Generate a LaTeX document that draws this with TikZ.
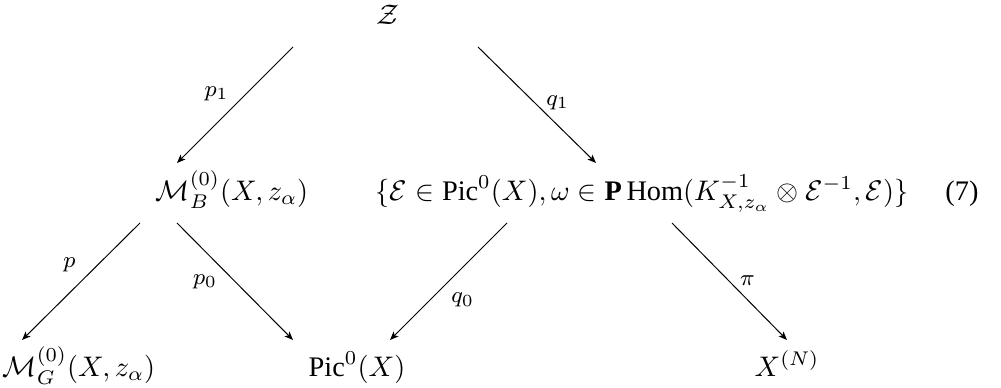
\documentclass[tikz,border=0pt]{standalone}
\usepackage{amsmath,amssymb}
\usepackage{fontspec}
\setmainfont{Liberation Serif}
\usepackage{tikz}
\usetikzlibrary{arrows.meta}

\begin{document}
\begin{tikzpicture}[
    x=0.353pt, y=-0.353pt,
    every node/.style={inner sep=0pt},
    objnode/.style={anchor=base},
    lbl/.style={font=\footnotesize, inner sep=0pt, anchor=center},
    arr/.style={-{Stealth[length=3pt, width=2.4pt, inset=0.7pt]}, line width=0.35pt}
]
\useasboundingbox (0,0) rectangle (1001,388);

% objects of the diagram
\node[objnode] (Z) at (388,25) {$\mathcal{Z}$};
\node[objnode] (MB) at (232,200) {$\mathcal{M}_B^{(0)}(X, z_\alpha)$};
\node[objnode] (setE) at (642,200) {$\{\mathcal{E} \in \mathrm{Pic}^0(X), \omega \in \mathbf{P}\,\mathrm{Hom}(K_{X,z_\alpha}^{-1} \otimes \mathcal{E}^{-1}, \mathcal{E})\}$};
\node[objnode] (eqno) at (962,200) {(7)};
\node[objnode] (MG) at (79,376) {$\mathcal{M}_G^{(0)}(X, z_\alpha)$};
\node[objnode] (Pic) at (357,376) {$\mathrm{Pic}^0(X)$};
\node[objnode] (XN) at (787,376) {$X^{(N)}$};

% maps
\draw[arr] ([shift={(-95,22)}]Z.base) -- node[lbl, pos=0.4, xshift=-10.6pt] {$p_1$} ([shift={(-55,-37)}]MB.base);
\draw[arr] ([shift={(90,22)}]Z.base) -- node[lbl, pos=0.48, xshift=8.1pt] {$q_1$} ([shift={(-46,-37)}]setE.base);
\draw[arr] ([shift={(-92,23)}]MB.base) -- node[lbl, pos=0.36, xshift=-9.9pt] {$p$} ([shift={(-57,-36)}]MG.base);
\draw[arr] ([shift={(-55,23)}]MB.base) -- node[lbl, pos=0.5, xshift=-10.6pt] {$p_0$} ([shift={(-64,-36)}]Pic.base);
\draw[arr] ([shift={(-135,23)}]setE.base) -- node[lbl, pos=0.66, xshift=11.6pt] {$q_0$} ([shift={(33,-36)}]Pic.base);
\draw[arr] ([shift={(30,23)}]setE.base) -- node[lbl, pos=0.49, xshift=6.7pt] {$\pi$} ([shift={(0,-36)}]XN.base);

\end{tikzpicture}
\end{document}
